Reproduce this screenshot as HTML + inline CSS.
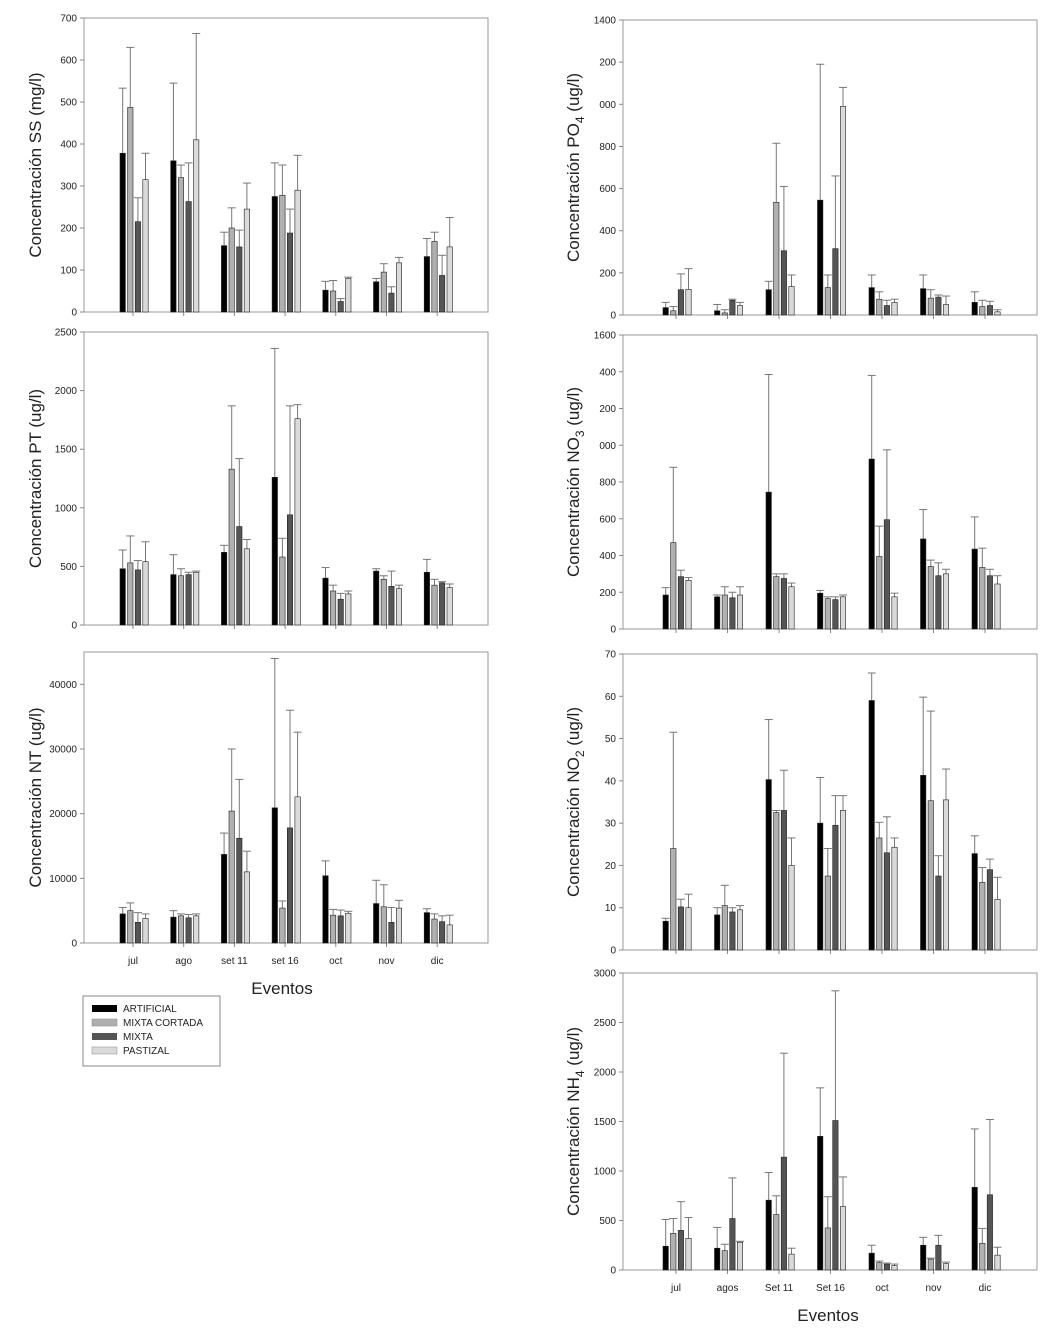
<!DOCTYPE html>
<html><head><meta charset="utf-8"><style>
body{margin:0;background:#fff;}
svg{display:block;font-family:"Liberation Sans",Arial,sans-serif;}
</style></head><body>
<svg id="chart" width="1051" height="1339" viewBox="0 0 1051 1339" xmlns="http://www.w3.org/2000/svg">
<g id="legend">
<rect x="83" y="996" width="137" height="70" fill="#fff" stroke="#888" stroke-width="1"/>
<rect x="92" y="1005" width="25" height="7" fill="#000"/>
<text x="123" y="1012" font-size="10" fill="#222">ARTIFICIAL</text>
<rect x="92" y="1019" width="25" height="7" fill="#b0b0b0" stroke="#888" stroke-width="0.5"/>
<text x="123" y="1026" font-size="10" fill="#222">MIXTA CORTADA</text>
<rect x="92" y="1033" width="25" height="7" fill="#555"/>
<text x="123" y="1040" font-size="10" fill="#222">MIXTA</text>
<rect x="92" y="1047" width="25" height="7" fill="#dadada" stroke="#888" stroke-width="0.5"/>
<text x="123" y="1054" font-size="10" fill="#222">PASTIZAL</text>
</g>
<text x="282" y="994" font-size="17" text-anchor="middle" fill="#222">Eventos</text>
<text x="828" y="1321" font-size="17" text-anchor="middle" fill="#222">Eventos</text>
</svg>
<script>
const leftCats = ["jul","ago","set 11","set 16","oct","nov","dic"];
const rightCats = ["jul","agos","Set 11","Set 16","oct","nov","dic"];
const seriesNames = ["artificial","mixta-cortada","mixta","pastizal"];

const ssMean = [[378,487,215,315],[360,320,263,410],[158,200,155,245],[275,278,188,290],[52,50,25,80],[72,95,45,117],[132,168,87,155]];
const ssErrTop = [[533,630,272,378],[545,350,355,663],[190,248,195,307],[355,350,245,373],[73,75,32,83],[80,115,60,130],[175,190,135,225]];
const ssTicks = ["0","100","200","300","400","500","600","700"];

const ptMean = [[480,530,470,540],[430,420,430,450],[620,1330,840,650],[1260,580,940,1760],[400,290,220,265],[460,390,330,310],[450,340,360,320]];
const ptErrTop = [[640,760,550,710],[600,480,450,460],[680,1870,1420,730],[2360,740,1870,1880],[490,340,270,290],[480,420,460,340],[560,390,370,350]];
const ptTicks = ["0","500","1000","1500","2000","2500"];

const ntMean = [[4500,5000,3200,3800],[4000,4200,3900,4200],[13700,20400,16200,11000],[20900,5400,17800,22600],[10400,4300,4200,4600],[6100,5600,3200,5400],[4700,3700,3300,2800]];
const ntErrTop = [[5500,6200,4700,4500],[5000,4500,4400,4500],[17000,30000,25300,14200],[44000,6500,36000,32600],[12700,5200,5100,4900],[9700,9000,5500,6600],[5300,4500,4200,4300]];
const ntTicks = ["0","10000","20000","30000","40000"];

const po4Mean = [[35,20,120,122],[20,10,70,45],[120,535,305,135],[545,130,315,990],[130,75,45,60],[125,80,85,50],[60,40,45,15]];
const po4ErrTop = [[60,40,195,220],[50,25,75,60],[160,815,610,190],[1190,190,660,1080],[190,110,70,75],[190,120,95,90],[110,70,65,25]];
const po4Ticks = ["0","200","400","600","800","000","200","1400"];

const no3Mean = [[185,470,285,265],[175,185,170,185],[745,285,275,230],[195,165,160,175],[925,395,595,175],[490,340,290,300],[435,335,290,245]];
const no3ErrTop = [[225,880,320,280],[185,230,200,230],[1385,300,300,250],[210,175,175,185],[1380,560,975,195],[650,375,360,325],[610,440,325,290]];
const no3Ticks = ["0","200","400","600","800","000","200","400","1600"];

const no2Mean = [[6.8,24,10.2,10],[8.3,10.5,9,9.5],[40.3,32.5,33,20],[30,17.5,29.5,33],[59,26.5,23,24.3],[41.3,35.3,17.5,35.5],[22.8,16,19,12]];
const no2ErrTop = [[7.5,51.5,12,13.2],[10,15.3,10,10.5],[54.5,33,42.5,26.5],[40.8,24,36.5,36.5],[65.5,30.2,31.5,26.5],[59.8,56.5,22.3,42.8],[27,19.5,21.5,17.2]];
const no2Ticks = ["0","10","20","30","40","50","60","70"];

const nh4Mean = [[240,370,400,320],[220,195,520,280],[705,560,1140,160],[1350,425,1510,640],[170,75,60,45],[250,110,250,65],[835,270,760,150]];
const nh4ErrTop = [[510,520,690,530],[430,260,930,290],[985,750,2190,220],[1840,740,2820,940],[250,90,70,60],[330,120,350,80],[1425,420,1520,230]];
const nh4Ticks = ["0","500","1000","1500","2000","2500","3000"];

const NS = "http://www.w3.org/2000/svg";
const svg = document.getElementById("chart");
const fills = ["#000","#b0b0b0","#555","#dadada"];

function mk(tag, attrs, parent){
  const e = document.createElementNS(NS, tag);
  for (const k in attrs) e.setAttribute(k, attrs[k]);
  (parent||svg).appendChild(e);
  return e;
}

function panel(o){
  const g = mk("g", {});
  
  
  const yScale = v => o.zero - (v / o.max) * (o.zero - o.frameTop);
  const xScale = i => o.c0 + i * o.step;
  const fr = mk("rect", {x:o.x0, y:o.frameTop, width:o.x1-o.x0, height:o.zero-o.frameTop, fill:"none", stroke:"#999", "stroke-width":1}, g);
  
  
  o.ticks.forEach((t, i) => {
    const y = yScale(i * o.tickStep);
    mk("line", {x1:o.x0-4, x2:o.x0, y1:y, y2:y, stroke:"#888"}, g);
    const tx = mk("text", {x:o.x0-7, y:y+3.5, "font-size":10, "text-anchor":"end", fill:"#222"}, g);
    
    
    tx.textContent = t;
  });
  o.cats.forEach((c, i) => {
    const cx = xScale(i);
    mk("line", {x1:cx, x2:cx, y1:o.zero, y2:o.zero+4, stroke:"#888"}, g);
    if (o.showCats){
      const tx = mk("text", {x:cx, y:o.zero+21, "font-size":10, "text-anchor":"middle", fill:"#222"}, g);
      
      
      tx.textContent = c;
    }
    for (let k = 0; k < 4; k++){
      const bw = 5.4;
      const bx = cx - 13 + k * 7.6;
      const yv = yScale(o.mean[i][k]);
      const yt = yScale(o.err[i][k]);
      const ex = bx + bw/2;
      const el = mk("line", {x1:ex, x2:ex, y1:yv, y2:yt, stroke:"#777", "stroke-width":1}, g);
      
      
      mk("line", {x1:ex-4, x2:ex+4, y1:yt, y2:yt, stroke:"#777", "stroke-width":1}, g);
      const b = mk("rect", {x:bx, y:yv, width:bw, height:Math.max(0,o.zero-yv), fill:fills[k], stroke:"#222", "stroke-width":0.6}, g);
      
      
    }
  });
  const ty = (o.frameTop + o.zero) / 2;
  const tt = mk("text", {x:0, y:0, "font-size":17, "text-anchor":"middle", fill:"#222", transform:"translate(" + o.titleX + "," + ty + ") rotate(-90)"}, g);
  
  
  const s1 = mk("tspan", {}, tt); s1.textContent = "Concentración " + o.label;
  if (o.sub){
    const s2 = mk("tspan", {"font-size":12, dy:5}, tt); s2.textContent = o.sub;
    const s3 = mk("tspan", {dy:-5}, tt); s3.textContent = " (" + o.unit + ")";
  } else {
    const s3 = mk("tspan", {}, tt); s3.textContent = " (" + o.unit + ")";
  }
}

const L = {x0:84, x1:488, c0:133, step:50.7, cats:leftCats, titleX:41};
const R = {x0:623, x1:1037, c0:676, step:51.5, cats:rightCats, titleX:579};

panel(Object.assign({}, L, {name:"ss", frameTop:18, zero:312, max:700, tickStep:100, ticks:ssTicks, mean:ssMean, err:ssErrTop, label:"SS", unit:"mg/l", showCats:false}));
panel(Object.assign({}, L, {name:"pt", frameTop:332, zero:625, max:2500, tickStep:500, ticks:ptTicks, mean:ptMean, err:ptErrTop, label:"PT", unit:"ug/l", showCats:false}));
panel(Object.assign({}, L, {name:"nt", frameTop:652, zero:943, max:45000, tickStep:10000, ticks:ntTicks, mean:ntMean, err:ntErrTop, label:"NT", unit:"ug/l", showCats:true}));
panel(Object.assign({}, R, {name:"po4", frameTop:20, zero:315, max:1400, tickStep:200, ticks:po4Ticks, mean:po4Mean, err:po4ErrTop, label:"PO", sub:"4", unit:"ug/l", showCats:false}));
panel(Object.assign({}, R, {name:"no3", frameTop:335, zero:629, max:1600, tickStep:200, ticks:no3Ticks, mean:no3Mean, err:no3ErrTop, label:"NO", sub:"3", unit:"ug/l", showCats:false}));
panel(Object.assign({}, R, {name:"no2", frameTop:654, zero:950, max:70, tickStep:10, ticks:no2Ticks, mean:no2Mean, err:no2ErrTop, label:"NO", sub:"2", unit:"ug/l", showCats:false}));
panel(Object.assign({}, R, {name:"nh4", frameTop:973, zero:1270, max:3000, tickStep:500, ticks:nh4Ticks, mean:nh4Mean, err:nh4ErrTop, label:"NH", sub:"4", unit:"ug/l", showCats:true}));
</script>
</body></html>
